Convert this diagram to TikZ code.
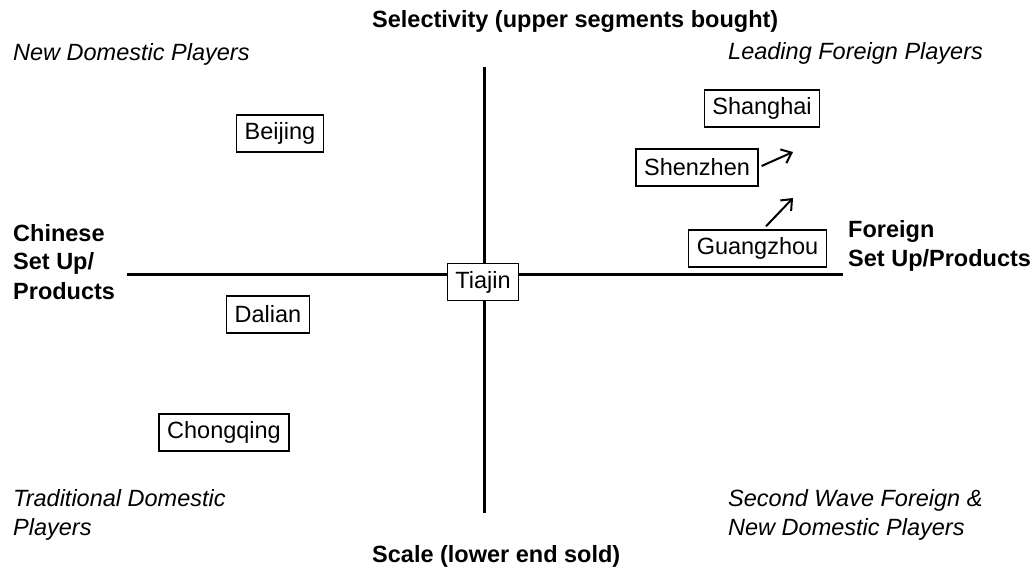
\documentclass[tikz,border=0pt]{standalone}
\usepackage{fontspec}
\setmainfont{Liberation Sans}
\usetikzlibrary{arrows.meta}
\tikzset{
  city/.style={draw, line width=1.4pt, fill=white, minimum height=37pt, inner xsep=8pt, inner ysep=0pt, font=\fontsize{23.5}{28}\selectfont},
  axis/.style={line width=3pt},
  move/.style={line width=2pt, -{Straight Barb[length=9pt,width=15pt,line width=2pt]}},
  quad/.style={inner sep=0pt, align=left, font=\fontsize{23.5}{28.5}\selectfont\itshape},
  axlabel/.style={inner sep=0pt, align=left, font=\fontsize{23.5}{29}\selectfont\bfseries},
}
\begin{document}
\begin{tikzpicture}[x=1pt,y=-1pt]
\useasboundingbox (0,0) rectangle (1033,569);
% axes
\coordinate (vt) at (484,67);
\coordinate (vb) at (484,513);
\coordinate (hl) at (127,275);
\coordinate (hr) at (843,275);
\draw[axis] (vt) -- (vb);
\draw[axis] (hl) -- (hr);
% axis labels (base anchor = baseline of the last line)
\node[axlabel, anchor=base west] (top) at (372,28) {Selectivity (upper segments bought)};
\node[axlabel, anchor=base west] (bot) at (372,562) {Scale (lower end sold)};
\node[axlabel, anchor=base west] (left) at (13,299) {Chinese\\Set Up/\\Products};
\node[axlabel, anchor=base west] (right) at (848,267) {Foreign\\Set Up/Products};
% quadrant labels
\node[quad, anchor=base west] (q1) at (13,61) {New Domestic Players};
\node[quad, anchor=base west] (q2) at (728,60) {Leading Foreign Players};
\node[quad, anchor=base west] (q3) at (13,535) {Traditional Domestic\\Players};
\node[quad, anchor=base west] (q4) at (728,535) {Second Wave Foreign \&\\New Domestic Players};
% cities
\node[city] (bj) at (280,133.5) {Beijing};
\node[city] (sh) at (762,108.5) {Shanghai};
\node[city] (sz) at (697,167.5) {Shenzhen};
\node[city] (gz) at (757.5,248.5) {Guangzhou};
\node[city] (tj) at (483,282) {Tiajin};
\node[city] (dl) at (268,314.5) {Dalian};
\node[city] (cq) at (224,432.5) {Chongqing};
% movement arrows
\coordinate (szto) at (793,152);
\coordinate (gzto) at (793,198);
\draw[move] ([xshift=3pt,yshift=1.5pt]sz.east) -- (szto);
\draw[move] ([xshift=8.5pt,yshift=3pt]gz.north) -- (gzto);
\end{tikzpicture}
\end{document}
